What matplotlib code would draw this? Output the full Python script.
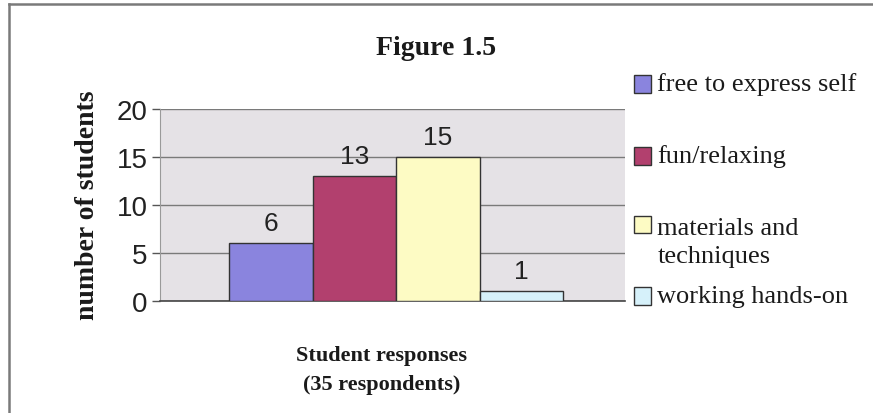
import matplotlib
matplotlib.use("Agg")
import matplotlib.pyplot as plt
from matplotlib.patches import Rectangle
from matplotlib.lines import Line2D

# Survey data
categories = ["free to express self", "fun/relaxing", "materials and\ntechniques", "working hands-on"]
counts = [6, 13, 15, 1]
colors = ["#8a84de", "#b2406e", "#fdfbc4", "#d6f1fa"]
yticks = [0, 5, 10, 15, 20]

fig = plt.figure(figsize=(8.73, 4.14), dpi=100)
fig.patch.set_facecolor("white")

ax = fig.add_axes([0.1833, 0.2705, 0.5327, 0.4638])
ax.set_facecolor("#e5e2e6")

x = list(range(len(counts)))
bars = ax.bar(x, counts, width=1.0, color=colors, edgecolor="#333333", linewidth=1.0, zorder=3)

for xi, v in zip(x, counts):
    ax.annotate(str(v), (xi, v), xytext=(0, 6), textcoords="offset points",
                ha="center", va="bottom", fontsize=19, family="Liberation Sans",
                color="#222222", zorder=4)

ax.set_xlim(-1.33, 4.24)
ax.set_ylim(0, 20)
ax.set_yticks(yticks)
ax.set_yticklabels([str(t) for t in yticks], fontsize=20, family="Liberation Sans", color="#222222")
ax.set_xticks([])
ax.yaxis.grid(True, color="#7a7a7a", linewidth=1.0, zorder=1)
ax.set_axisbelow(True)
ax.tick_params(axis="y", length=6, width=1, color="#555555", pad=3)

for side in ("top", "right"):
    ax.spines[side].set_visible(False)
ax.spines["left"].set_color("#9a9a9a")
ax.spines["bottom"].set_color("#444444")
ax.spines["bottom"].set_linewidth(1.2)

ax.set_ylabel("number of students", fontsize=20, family="Liberation Serif",
              fontweight="bold", color="#1a1a1a")
ax.yaxis.set_label_coords(-0.129, 0.505)

fig.text(0.4995, 0.884, "Figure 1.5", ha="center", va="center", fontsize=20,
         family="Liberation Serif", fontweight="bold", color="#1a1a1a")
fig.text(0.437, 0.106, "Student responses\n(35 respondents)", ha="center", va="center",
         fontsize=16, family="Liberation Serif", fontweight="bold", color="#1a1a1a",
         linespacing=1.6)

# Legend drawn as swatches beside the plot
legend_y = [0.795, 0.622, 0.456, 0.283]
for label, col, ly in zip(categories, colors, legend_y):
    fig.patches.append(Rectangle((0.7265, ly - 0.022), 0.0195, 0.043, transform=fig.transFigure,
                                 facecolor=col, edgecolor="#333333", linewidth=1.0))
    if "\n" in label:
        fig.text(0.753, ly + 0.018, label, ha="left", va="top",
                 fontsize=19, family="Liberation Serif", color="#1a1a1a", linespacing=1.35)
    else:
        fig.text(0.753, ly, label, ha="left", va="center",
                 fontsize=19, family="Liberation Serif", color="#1a1a1a")

# Frame around the chart
fig.lines.append(Line2D([0.0105, 1.0], [0.987, 0.987], transform=fig.transFigure,
                        color="#7a7a7a", linewidth=1.8))
fig.lines.append(Line2D([0.0105, 0.0105], [0.0, 0.987], transform=fig.transFigure,
                        color="#7a7a7a", linewidth=1.8))

fig.savefig("out.png", dpi=100)
